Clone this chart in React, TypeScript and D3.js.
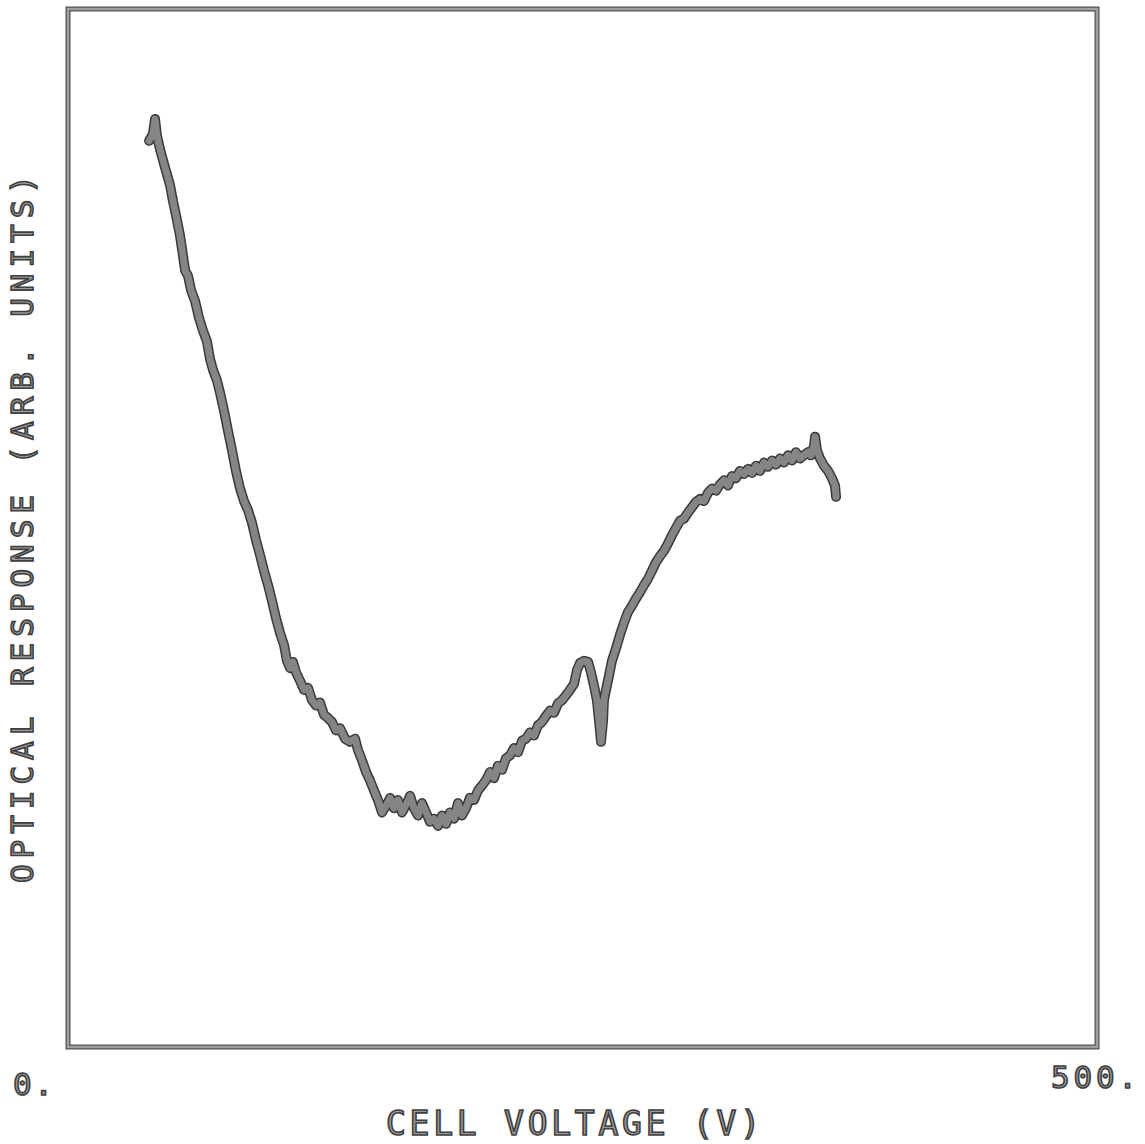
import React from "react";
import * as d3 from "d3";

// Cell voltage (V)
const voltage: number[] = [
  39.4, 41.3, 42.3, 43.2, 44.7, 46.2, 47.6, 49.6, 51.0, 52.5, 54.4, 55.9, 56.9, 58.3, 59.8, 61.7, 63.7, 65.6, 67.5, 69.0,
  70.5, 72.4, 73.9, 75.8, 77.7, 79.7, 81.6, 83.6, 85.5, 87.5, 89.4, 91.4, 93.3, 95.2, 97.2, 99.1, 101.1, 103.0, 105.0, 106.4,
  107.9, 109.3, 110.8, 112.7, 114.7, 116.6, 118.6, 120.5, 122.4, 124.4, 126.3, 128.3, 130.2, 132.2, 134.6, 137.0, 139.5, 140.9, 142.9, 144.8,
  146.7, 148.7, 150.6, 152.6, 154.5, 156.5, 158.4, 160.3, 162.3, 164.2, 166.2, 168.1, 170.1, 172.0, 174.0, 175.9, 177.8, 179.8, 181.7, 183.7,
  185.6, 187.6, 189.5, 191.4, 193.4, 195.3, 197.3, 199.2, 201.2, 203.1, 205.1, 207.0, 208.9, 210.9, 212.8, 214.8, 216.7, 218.7, 220.6, 222.5,
  224.5, 226.4, 228.4, 230.3, 232.3, 234.2, 236.2, 238.1, 240.0, 242.0, 243.9, 245.9, 247.3, 248.8, 250.7, 252.7, 254.1, 255.6, 257.0, 258.0,
  259.0, 260.0, 260.4, 261.4, 262.9, 264.3, 266.3, 268.2, 270.2, 272.1, 274.0, 276.0, 277.9, 279.9, 281.8, 283.8, 285.7, 287.7, 289.6, 291.5,
  293.5, 295.4, 297.4, 299.3, 301.3, 303.2, 305.1, 307.1, 309.0, 311.0, 312.9, 314.9, 316.8, 318.8, 320.7, 322.6, 324.6, 326.5, 328.5, 330.4,
  332.4, 334.3, 336.2, 338.2, 340.1, 342.1, 344.0, 346.0, 347.9, 349.9, 351.8, 353.7, 355.7, 357.6, 359.6, 361.0, 362.5, 363.0, 363.9, 365.4,
  367.3, 369.3, 371.2, 372.7, 373.2,
];

// Optical response (arb. units)
const response: number[] = [
  87.3, 88.0, 89.4, 87.8, 86.5, 85.4, 84.4, 83.0, 81.5, 80.1, 78.2, 76.2, 74.8, 74.3, 72.9, 71.9, 70.2, 69.0, 68.0, 66.3,
  65.2, 64.2, 63.0, 61.3, 59.4, 57.5, 55.5, 53.8, 52.6, 51.7, 50.5, 48.8, 47.4, 45.9, 44.5, 43.0, 41.3, 39.9, 38.7, 37.2,
  36.5, 37.1, 36.1, 35.3, 34.4, 34.6, 33.4, 32.9, 33.2, 32.0, 31.7, 31.3, 30.5, 30.7, 29.7, 29.4, 29.7, 28.6, 27.6, 26.5,
  25.7, 24.7, 23.8, 22.6, 23.2, 24.0, 23.0, 23.8, 22.6, 23.3, 24.2, 23.0, 22.3, 23.5, 22.6, 21.7, 22.0, 21.3, 22.3, 21.5,
  22.6, 22.0, 23.5, 22.3, 23.0, 24.0, 23.8, 24.7, 25.2, 25.7, 26.5, 25.9, 27.1, 26.7, 27.8, 28.1, 28.8, 28.4, 29.5, 29.7,
  30.3, 30.0, 31.0, 31.3, 31.9, 32.4, 32.2, 33.1, 33.4, 33.9, 34.4, 35.0, 36.3, 37.0, 37.2, 37.1, 36.1, 34.8, 33.4, 31.5,
  29.4, 31.5, 33.4, 34.4, 35.8, 37.2, 38.4, 39.7, 40.9, 41.9, 42.5, 43.2, 43.8, 44.5, 45.1, 45.9, 46.7, 47.3, 47.8, 48.5,
  49.3, 50.0, 50.7, 50.9, 51.5, 52.0, 52.5, 52.8, 52.6, 53.4, 53.8, 53.6, 54.2, 54.6, 54.1, 55.0, 54.8, 55.5, 55.2, 55.7,
  55.3, 56.0, 55.5, 56.3, 55.9, 56.5, 56.1, 56.7, 56.3, 57.0, 56.5, 57.3, 56.7, 57.0, 57.3, 57.0, 57.9, 58.8, 57.5, 56.7,
  56.0, 55.5, 54.8, 54.1, 53.0,
];

const xDomain: [number, number] = [0, 500];
const yDomain: [number, number] = [0, 100];
const xTickLabels = ["0.", "500."];
const xTitle = "CELL VOLTAGE (V)";
const yTitle = "OPTICAL RESPONSE (ARB. UNITS)";

export default function App() {
  const W = 1145;
  const H = 1144;
  const left = 68, right = 1097, top = 9, bottom = 1047;
  const x = d3.scaleLinear().domain(xDomain).range([left, right]);
  const y = d3.scaleLinear().domain(yDomain).range([bottom, top]);
  const pts: [number, number][] = voltage.map((v, i) => [v, response[i]]);
  const line = d3
    .line<[number, number]>()
    .x((d) => x(d[0]))
    .y((d) => y(d[1]))
    .curve(d3.curveLinear);
  const path = line(pts) || "";

  const textStyle = {
    fontFamily: "'DejaVu Sans Mono', monospace",
    fontWeight: 400 as const,
    fill: "#9a9a9a",
    stroke: "#404040",
    strokeWidth: 1.6,
  };

  return (
    <svg
      width={W}
      height={H}
      style={{ position: "absolute", left: 0, top: 0, background: "#fff" }}
    >
      <rect x={0} y={0} width={W} height={H} fill="#fff" />
      {/* frame */}
      <rect
        x={left}
        y={top}
        width={right - left}
        height={bottom - top}
        fill="none"
        stroke="#505050"
        strokeWidth={5}
      />
      <rect
        x={left}
        y={top}
        width={right - left}
        height={bottom - top}
        fill="none"
        stroke="#a0a0a0"
        strokeWidth={2.5}
      />
      {/* data trace */}
      <path d={path} fill="none" stroke="#3a3a3a" strokeWidth={10} strokeLinejoin="round" strokeLinecap="round" />
      <path d={path} fill="none" stroke="#858585" strokeWidth={7} strokeLinejoin="round" strokeLinecap="round" />
      {/* tick labels */}
      <text x={13} y={1095} fontSize={31} textLength={40} lengthAdjust="spacing" style={textStyle}>
        {xTickLabels[0]}
      </text>
      <text x={1051} y={1088} fontSize={31} textLength={86} lengthAdjust="spacing" style={textStyle}>
        {xTickLabels[1]}
      </text>
      {/* axis titles */}
      <text x={386} y={1135} fontSize={33} textLength={374} lengthAdjust="spacing" style={textStyle}>
        {xTitle}
      </text>
      <text
        transform={`translate(33,883) rotate(-90)`}
        x={0}
        y={0}
        fontSize={31}
        textLength={708}
        lengthAdjust="spacing"
        style={textStyle}
      >
        {yTitle}
      </text>
    </svg>
  );
}
